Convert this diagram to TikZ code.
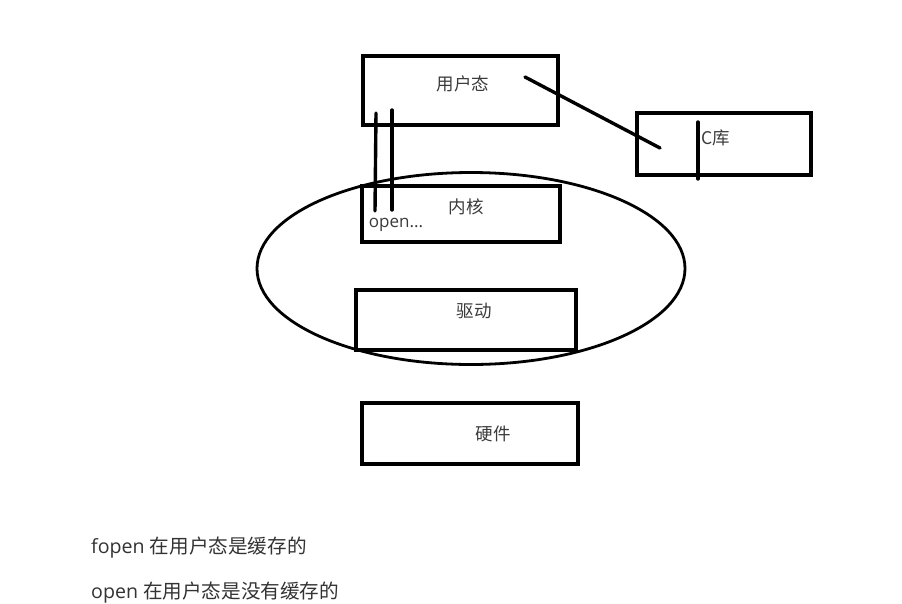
\documentclass[tikz,border=0pt]{standalone}
\usepackage{fontspec}
\setmainfont{Open Sans}
\newfontfamily\cjk{Noto Sans CJK SC}
\definecolor{labelgray}{HTML}{3A3A3A}
\definecolor{textgray}{HTML}{333333}
\tikzset{
  layer/.style={draw=black, line width=3.6pt, inner sep=0pt},
  lbl/.style={font=\cjk\fontsize{17.5}{20}\selectfont, text=labelgray, inner sep=0pt},
  stroke/.style={line width=3.4pt, line cap=round},
  note/.style={font=\cjk\fontsize{19.6}{23}\selectfont, text=textgray, anchor=west, inner sep=0pt}
}
\begin{document}
\begin{tikzpicture}[x=1pt,y=-1pt]
\useasboundingbox (0,0) rectangle (902,603);
% boxes
\node[layer, minimum width=195pt, minimum height=69pt] (user) at (460.5,90.5) {};
\node[layer, minimum width=174pt, minimum height=62pt] (clib) at (724,144) {};
\node[layer, minimum width=198pt, minimum height=56pt] (kernel) at (461,214) {};
\node[layer, minimum width=220pt, minimum height=60pt] (driver) at (466,320) {};
\node[layer, minimum width=216pt, minimum height=61pt] (hw) at (470,433.5) {};
% ellipse
\draw[line width=2.8pt] (471,268.5) ellipse [x radius=214, y radius=96];
% labels
\node[lbl] (tuser) at (463,84) {用户态};
\node[lbl] (tclib) at (716,138) {C库};
\node[lbl] (tkernel) at (466,207) {内核};
\node[font=\fontsize{17}{20}\selectfont, text=labelgray, inner sep=0pt] (topen) at (396,224.5) {open...};
\node[lbl] (tdriver) at (474,311) {驱动};
\node[lbl] (thw) at (493,434) {硬件};
% hand-drawn strokes
\coordinate (d1) at (525,77);
\coordinate (d2) at (660,148);
\draw[stroke] (d1) -- (d2);
\coordinate (c1) at (698,122);
\coordinate (c2) at (698,179);
\draw[stroke] (c1) -- (c2);
\coordinate (a1) at (376,113);
\coordinate (a2) at (375,211);
\draw[stroke] (a1) -- (a2);
\coordinate (b1) at (392,110);
\coordinate (b2) at (392,210);
\draw[stroke] (b1) -- (b2);
% notes
\node[note] (n1) at (91,548) {\fontspec{Open Sans}fopen \cjk 在用户态是缓存的};
\node[note] (n2) at (91,593) {\fontspec{Open Sans}open \cjk 在用户态是没有缓存的};
\end{tikzpicture}
\end{document}
